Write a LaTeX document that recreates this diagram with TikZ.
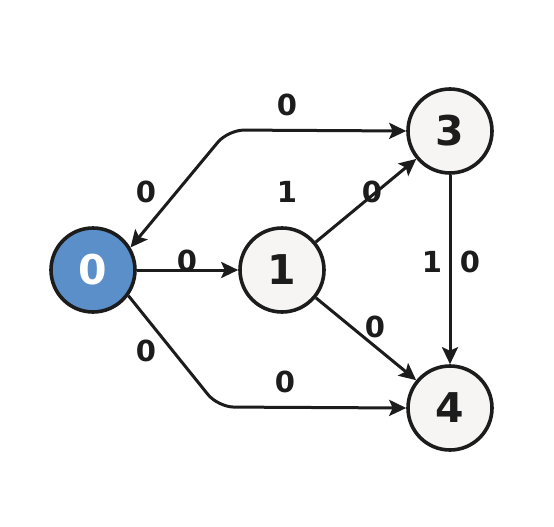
\documentclass[tikz,border=0pt]{standalone}
\usepackage{fontspec}
\setmainfont{DejaVu Sans}
\usetikzlibrary{arrows.meta}
\definecolor{nodeblue}{HTML}{5B8FC9}
\definecolor{nodefill}{HTML}{F6F5F3}
\definecolor{ink}{HTML}{1C1C1C}
\begin{document}
\begin{tikzpicture}[x=1pt,y=-1pt,
  state/.style={circle,draw=ink,line width=3.6pt,fill=nodefill,minimum size=84pt,inner sep=0pt,font=\fontsize{41}{41}\selectfont\bfseries,text=ink},
  start/.style={state,fill=nodeblue,text=white},
  tip/.style={Stealth[length=17pt,width=16pt,inset=3.5pt]},
  edge/.style={draw=ink,line width=3pt,-{Stealth[length=17pt,width=16pt,inset=3.5pt]}},
  bothedge/.style={draw=ink,line width=3pt,{Stealth[length=17pt,width=16pt,inset=3.5pt]}-{Stealth[length=17pt,width=16pt,inset=3.5pt]}},
  lab/.style={font=\fontsize{29}{29}\selectfont\bfseries,text=ink,inner sep=0pt}]
\useasboundingbox (0,0) rectangle (554,527);
\fill[white] (0,0) rectangle (554,527);
\node[start] (n0) at (93,270) {0};
\node[state] (n1) at (282,270) {1};
\node[state] (n3) at (450,131) {3};
\node[state] (n4) at (450,408) {4};
\coordinate (c1) at (228,130);
\coordinate (c2) at (218,407);
\draw[bothedge,rounded corners=16pt] (n0.31) -- (c1) -- (n3.west);
\draw[edge,rounded corners=16pt] (n0.-36) -- (c2) -- (n4.west);
\draw[edge] (n0) -- (n1);
\draw[edge] (n1) -- (n3);
\draw[edge] (n1) -- (n4);
\draw[edge] (n3) -- (n4);
\node[lab] (l1) at (287,105) {0};
\node[lab] (l2) at (146,192) {0};
\node[lab] (l3) at (287,192) {1};
\node[lab] (l4) at (372,192) {0};
\node[lab] (l5) at (187,261) {0};
\node[lab] (l6) at (432,262) {1};
\node[lab] (l7) at (470,262) {0};
\node[lab] (l8) at (375,327) {0};
\node[lab] (l9) at (146,351) {0};
\node[lab] (l10) at (285,382) {0};
\end{tikzpicture}
\end{document}
